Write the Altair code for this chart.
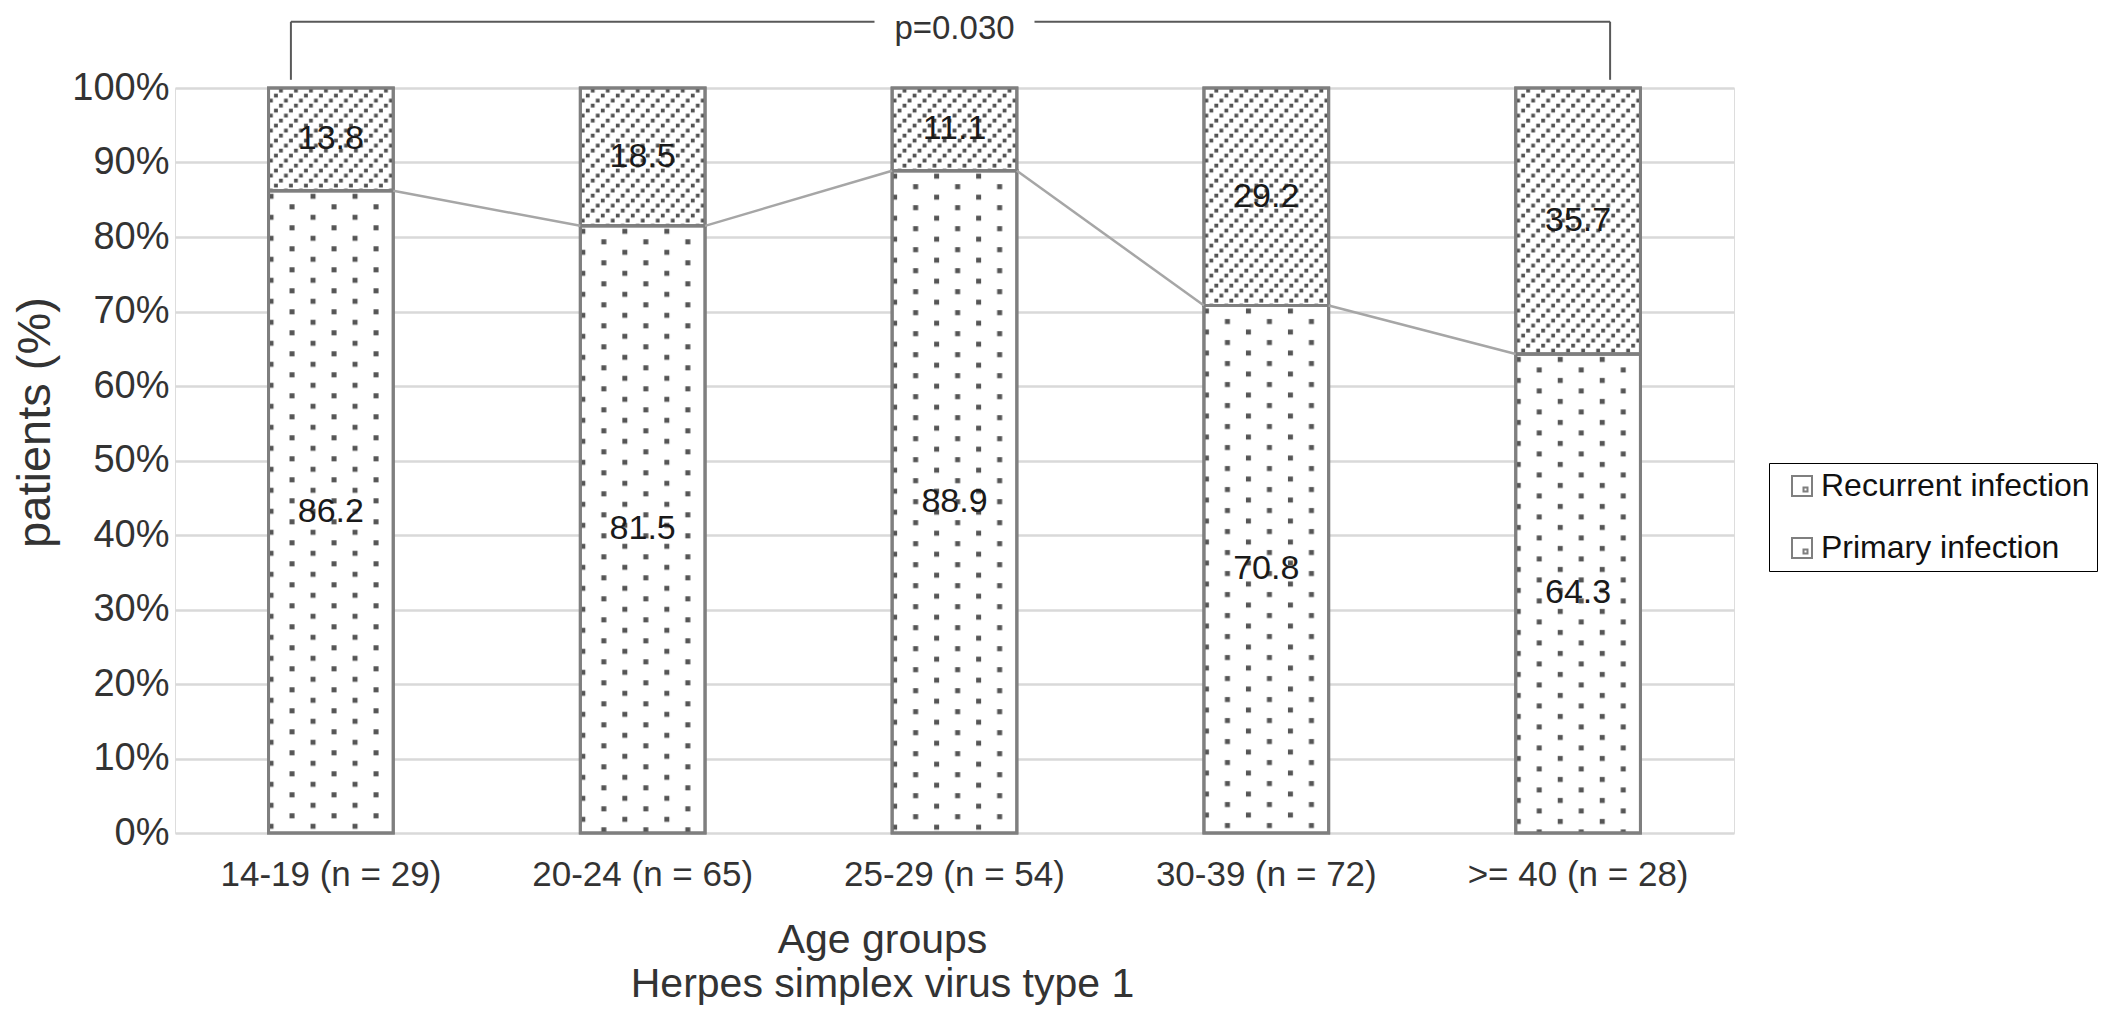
import base64
import altair as alt
import pandas as pd

# ---------------- data ----------------
groups = ["14-19 (n = 29)", "20-24 (n = 65)", "25-29 (n = 54)", "30-39 (n = 72)", ">= 40 (n = 28)"]
primary = [86.2, 81.5, 88.9, 70.8, 64.3]
recurrent = [13.8, 18.5, 11.1, 29.2, 35.7]
series_names = ["Recurrent infection", "Primary infection"]
y_ticks = [0, 10, 20, 30, 40, 50, 60, 70, 80, 90, 100]
x_title = ["Age groups", "Herpes simplex virus type 1"]
y_title = "patients (%)"
p_label = "p=0.030"
bracket_level = 108.9
bracket_leg_end = 101.1

FONT = "Liberation Sans"

rows = []
for g, p, r in zip(groups, primary, recurrent):
    rows.append(dict(group=g, series="Primary infection", start=0.0, end=p, mid=p / 2, label=p))
    rows.append(dict(group=g, series="Recurrent infection", start=p, end=p + r, mid=p + r / 2, label=r))
bars = pd.DataFrame(rows)

links = pd.DataFrame(dict(group=groups[:-1], next=groups[1:], v=primary[:-1], v2=primary[1:]))

ann = pd.DataFrame([dict(g_left=groups[0], g_mid=groups[len(groups) // 2], g_right=groups[-1],
                         top=bracket_level, leg=bracket_leg_end, text=p_label)])

# ---------------- patterns (SVG tiles used as image fills) ----------------
def svg_uri(pattern_body, w, h):
    svg = ('<svg xmlns="http://www.w3.org/2000/svg"><defs>'
           f'<pattern id="p" width="{w}" height="{h}" patternUnits="userSpaceOnUse">{pattern_body}</pattern>'
           '</defs><rect x="0" y="0" width="100%" height="100%" fill="url(#p)"/></svg>')
    return "data:image/svg+xml;base64," + base64.b64encode(svg.encode()).decode()

hatch_uri = svg_uri(
    '<rect x="0.5" y="10.7" width="3.8" height="3.8" fill="#505050"/>'
    '<rect x="5.5" y="5.7" width="3.8" height="3.8" fill="#505050"/>'
    '<rect x="10.5" y="0.7" width="3.8" height="3.8" fill="#505050"/>', 15, 15)
dots_uri = svg_uri(
    '<rect x="0" y="3" width="5" height="5" fill="#555555"/>'
    '<rect x="21" y="13.5" width="5" height="5" fill="#555555"/>', 42, 21)

# ---------------- scales / axes ----------------
x_scale = alt.Scale(domain=groups, paddingInner=0.6, paddingOuter=0.3)
y_scale = alt.Scale(domain=[0, 100], nice=False, zero=True)

x_axis = alt.Axis(title=x_title, labelAngle=0, labelFontSize=35, labelColor="#333333",
                  labelPadding=24, labelLimit=400, ticks=False, domain=False, grid=False,
                  titleFontSize=41, titleFontWeight="normal", titleColor="#333333",
                  titleX=707, titleY=87, titleBaseline="top", titleAlign="center",
                  titleLineHeight=44, labelFont=FONT, titleFont=FONT)
y_axis = alt.Axis(title=y_title, values=y_ticks, labelExpr="datum.value + '%'",
                  labelFontSize=38, labelColor="#333333", labelPadding=6,
                  ticks=False, domain=False, grid=True, gridColor="#d9d9d9", gridWidth=2.5,
                  titleFontSize=47, titleFontWeight="normal", titleColor="#333333",
                  titleX=-140, titleY=334, titleAngle=270, titleAlign="center",
                  titleBaseline="middle", labelFont=FONT, titleFont=FONT)

def X(field):
    return alt.X(f"{field}:N", scale=x_scale, axis=x_axis)

def Y(field):
    return alt.Y(f"{field}:Q", scale=y_scale, axis=y_axis)

legend_symbol = "M-1,-1H1V1H-1Z M0.15,0.15H0.55V0.55H0.15Z"

base_bars = alt.Chart(bars).mark_bar(stroke="#7f7f7f", strokeWidth=3).encode(
    x=X("group"), y=Y("start"), y2="end",
    color=alt.Color("series:N",
                    scale=alt.Scale(domain=series_names, range=["#ffffff", "#ffffff"]),
                    legend=alt.Legend(title=None, orient="none", legendX=1594, legendY=375,
                                      labelFontSize=32, labelFont=FONT, labelColor="#111111",
                                      labelLimit=500, labelOffset=3,
                                      symbolType=legend_symbol, symbolSize=400,
                                      symbolStrokeColor="#7f7f7f", symbolStrokeWidth=2,
                                      symbolFillColor="#ffffff", symbolOffset=10,
                                      strokeColor="#000000", padding=7, rowPadding=30)),
)

hatch = alt.Chart(bars).transform_filter(
    alt.datum.series == "Recurrent infection"
).mark_image(aspect=False).encode(
    x=X("group"), y=Y("start"), y2="end", url=alt.value(hatch_uri)
)
dots = alt.Chart(bars).transform_filter(
    alt.datum.series == "Primary infection"
).mark_image(aspect=False).encode(
    x=X("group"), y=Y("start"), y2="end", url=alt.value(dots_uri)
)

outline = alt.Chart(bars).mark_bar(filled=False, stroke="#7f7f7f", strokeWidth=3).encode(
    x=X("group"), y=Y("start"), y2="end"
)

half_bar = 62.35
series_lines = alt.Chart(links).mark_rule(color="#a6a6a6", strokeWidth=2.5,
                                          xOffset=half_bar, x2Offset=-half_bar).encode(
    x=X("group"), x2="next", y=Y("v"), y2="v2"
)

labels = alt.Chart(bars).mark_text(fontSize=34, font=FONT, color="#1a1a1a", baseline="middle").encode(
    x=X("group"), y=Y("mid"), text=alt.Text("label:Q", format=".1f")
)

bcol = "#595959"
leg_left = alt.Chart(ann).mark_rule(color=bcol, strokeWidth=2, xOffset=-40).encode(
    x=X("g_left"), y=Y("leg"), y2="top")
leg_right = alt.Chart(ann).mark_rule(color=bcol, strokeWidth=2, xOffset=32).encode(
    x=X("g_right"), y=Y("leg"), y2="top")
bar_left = alt.Chart(ann).mark_rule(color=bcol, strokeWidth=2, xOffset=-40, x2Offset=-80).encode(
    x=X("g_left"), x2="g_mid", y=Y("top"))
bar_right = alt.Chart(ann).mark_rule(color=bcol, strokeWidth=2, xOffset=80, x2Offset=32).encode(
    x=X("g_mid"), x2="g_right", y=Y("top"))
p_text = alt.Chart(ann).mark_text(fontSize=33, font=FONT, color="#333333", baseline="middle", dy=7).encode(
    x=X("g_mid"), y=Y("top"), text="text:N")

chart = alt.layer(
    base_bars, hatch, dots, outline, series_lines, labels,
    leg_left, leg_right, bar_left, bar_right, p_text
).properties(
    width=1559, height=745,
    autosize=alt.AutoSizeParams(type="none"),
    padding={"left": 167, "top": 80, "right": 370, "bottom": 175},
).configure_view(strokeWidth=0).configure(font=FONT)

chart.save("out.html", embed_options={"renderer": "svg", "actions": False})
